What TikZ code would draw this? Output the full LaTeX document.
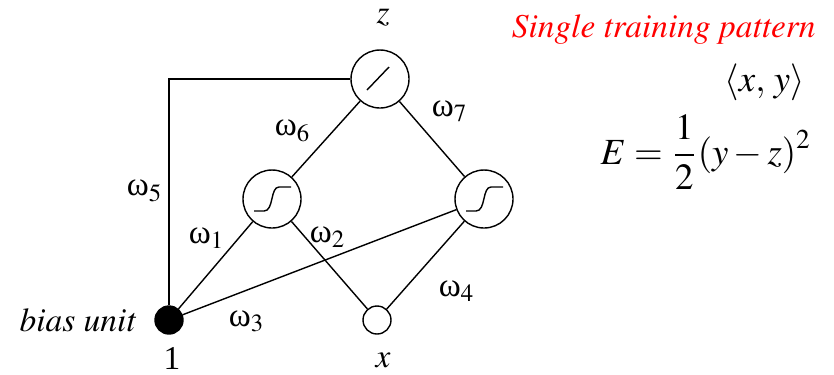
\documentclass[tikz,border=0pt]{standalone}
\usepackage{mathptmx}
\usepackage{fontspec}
\setmainfont{Liberation Serif}
\usepackage{xcolor}
\usepackage{tikz}
\usetikzlibrary{positioning,calc}
\definecolor{titlered}{HTML}{FF0000}
\newcommand{\timesit}[1]{{\usefont{OT1}{ptm}{m}{it}#1}}

\begin{document}
\begin{tikzpicture}[x=0.1mm,y=-0.1mm,
  font=\fontsize{9.5}{11}\selectfont,
  unit/.style={draw, circle, thin, minimum size=5.8mm, inner sep=0pt},
  inunit/.style={draw, circle, thin, minimum size=2.8mm, inner sep=0pt},
  wire/.style={thin}]
\useasboundingbox (0,0) rectangle (834,374);
% units
\node[unit] (out) at (380,79) {};
\node[unit] (hidA) at (272,199) {};
\node[unit] (hidB) at (484,199) {};
\node[inunit, fill=black] (bias) at (169,320) {};
\node[inunit] (inx) at (377,320) {};
% transfer functions
\draw[wire] ($(out)+(-13,11)$) -- ($(out)+(9,-12)$);
\draw[wire] ($(hidA)+(-18,12)$) -- ($(hidA)+(-8,12)$) .. controls ($(hidA)+(2,12)$) and ($(hidA)+(-2,-12)$) .. ($(hidA)+(7,-12)$) -- ($(hidA)+(19,-12)$);
\draw[wire] ($(hidB)+(-18,12)$) -- ($(hidB)+(-8,12)$) .. controls ($(hidB)+(2,12)$) and ($(hidB)+(-2,-12)$) .. ($(hidB)+(7,-12)$) -- ($(hidB)+(19,-12)$);
% connections
\coordinate (corner) at (bias.north |- out.west);
\draw[wire] (bias.north) -- (corner) -- (out.west);
\draw[wire] (bias) -- (hidA);
\draw[wire] (bias) -- (hidB);
\draw[wire] (inx) -- (hidA);
\draw[wire] (inx) -- (hidB);
\draw[wire] (hidA) -- (out);
\draw[wire] (hidB) -- (out);
% labels
\node (lz) at (383,18) {$z$};
\node (lone) at (172,358) {1};
\node (lx) at (383,360) {$x$};
\node[anchor=east] (lbias) at (148,320) {\timesit{bias unit}};
\node (w1) at (207,238) {ω$_1$};
\node (w2) at (328,237) {ω$_2$};
\node (w3) at (247,321) {ω$_3$};
\node (w4) at (457,291) {ω$_4$};
\node (w5) at (145,191) {ω$_5$};
\node (w6) at (293,131) {ω$_6$};
\node (w7) at (450,111) {ω$_7$};
% pattern and error
\node[titlered, anchor=east] (title) at (828,30) {\timesit{Single training pattern}};
\node[anchor=east, font=\fontsize{10.5}{12}\selectfont] (pat) at (817,82) {$\langle x,\, y\rangle$};
\node[anchor=east, font=\fontsize{10.5}{12}\selectfont] (err) at (824,152) {$E = \displaystyle\frac{1}{2}(y-z)^2$};
\end{tikzpicture}
\end{document}
